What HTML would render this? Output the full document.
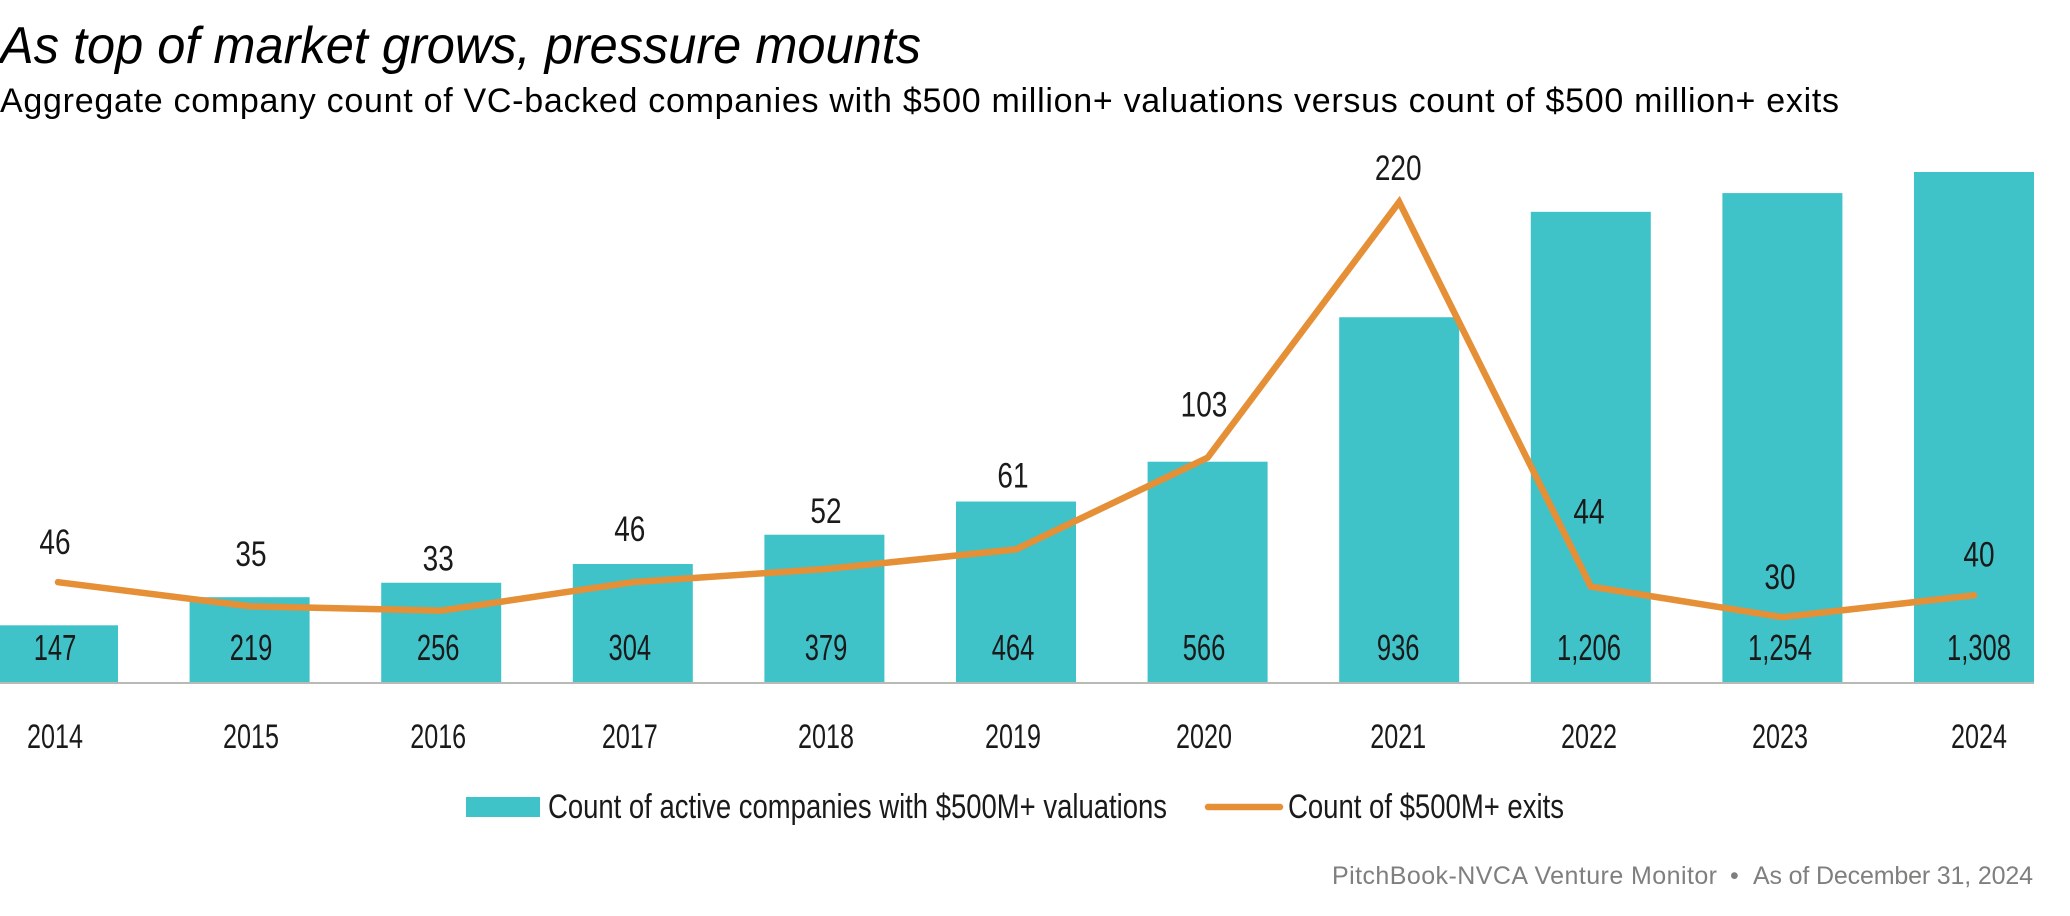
<!DOCTYPE html>
<html lang="en">
<head>
<meta charset="utf-8">
<title>As top of market grows, pressure mounts</title>
<style>
  html, body { margin: 0; padding: 0; background: #fff; width: 2070px; height: 916px; overflow: hidden; }
  svg { display: block; }
  text { font-family: "Liberation Sans", sans-serif; fill: #1a1a1a; }
</style>
</head>
<body>
<svg id="chart" xmlns="http://www.w3.org/2000/svg" width="2070" height="916" viewBox="0 0 2070 916">
  <text x="0" y="63" font-size="52" font-style="italic" textLength="921" lengthAdjust="spacingAndGlyphs" style="fill:#000">As top of market grows, pressure mounts</text>
  <text x="0" y="112" font-size="34" textLength="1839" lengthAdjust="spacing" style="fill:#000">Aggregate company count of VC-backed companies with $500 million+ valuations versus count of $500 million+ exits</text>

  <g id="bars"></g>
  <line x1="0" x2="2034" y1="683" y2="683" stroke="#b9b9b5" stroke-width="2"></line>
  <g id="barsTop"></g>
  <path id="exitLine" fill="none" stroke="#e58f36" stroke-width="6.5" stroke-linejoin="miter" stroke-linecap="round"></path>
  <g id="exitLabels"></g>
  <g id="xTicks"></g>

  <g>
    <rect x="466" y="797" width="74" height="20" fill="#40c2c9"></rect>
    <text x="548" y="818" font-size="34" textLength="619" lengthAdjust="spacingAndGlyphs">Count of active companies with $500M+ valuations</text>
    <line x1="1208" x2="1280" y1="807" y2="807" stroke="#e58f36" stroke-width="6.5" stroke-linecap="round"></line>
    <text x="1288" y="818" font-size="34" textLength="276" lengthAdjust="spacingAndGlyphs">Count of $500M+ exits</text>
  </g>

  <g>
    <text x="1332" y="884" font-size="25" textLength="385" lengthAdjust="spacing" style="fill:#7f7f7d">PitchBook-NVCA Venture Monitor</text>
    <text x="1730" y="884" font-size="25" style="fill:#7f7f7d">•</text>
    <text x="1753" y="884" font-size="25" textLength="280" lengthAdjust="spacing" style="fill:#7f7f7d">As of December 31, 2024</text>
  </g>
</svg>

<script>
const years = ['2014','2015','2016','2017','2018','2019','2020','2021','2022','2023','2024'];
const activeCompanies = [147,219,256,304,379,464,566,936,1206,1254,1308];
const exitCounts = [46,35,33,46,52,61,103,220,44,30,40];

// Layout constants (not data)
const NS = 'http://www.w3.org/2000/svg';
const BASE_Y = 682.7;
const BAR_W = 120;
const xPos = i => 58 + 191.6 * i;
const yBar = v => BASE_Y - v * (510.7 / 1308);
const yLine = v => BASE_Y - v * (480.7 / 220);

// Hand placement of labels relative to their mark
const exitLabelRise = [28, 40, 40, 41, 46, 62, 41, 22, 63, 28, 29];
const labelShift = [-3, 1.4, -3, -3, 1.6, -3, -3.6, -1, -1.8, -2.4, 5];

function addText(parent, str, cx, baseline, size, narrow) {
  const t = document.createElementNS(NS, 'text');
  t.setAttribute('transform', 'translate(' + cx + ',' + baseline + ') scale(' + narrow + ',1)');
  t.setAttribute('text-anchor', 'middle');
  t.setAttribute('font-size', size);
  t.textContent = str;
  parent.appendChild(t);
  return t;
}

const barsG = document.getElementById('bars');
const barsTop = document.getElementById('barsTop');
const exitG = document.getElementById('exitLabels');
const ticksG = document.getElementById('xTicks');

activeCompanies.forEach((v, i) => {
  const r = document.createElementNS(NS, 'rect');
  r.setAttribute('x', xPos(i) - BAR_W / 2);
  r.setAttribute('y', yBar(v));
  r.setAttribute('width', BAR_W);
  r.setAttribute('height', BASE_Y - yBar(v));
  r.setAttribute('fill', '#40c2c9');
  
  
  barsG.appendChild(r);

  const l = addText(barsTop, v.toLocaleString('en-US'), xPos(i) + labelShift[i], 660, 36, 0.71);
  
  

  const y = addText(ticksG, years[i], xPos(i) + labelShift[i], 748, 34, 0.74);
  
  
});

document.getElementById('exitLine').setAttribute('d',
  exitCounts.map((v, i) => (i ? 'L' : 'M') + xPos(i) + ' ' + yLine(v)).join(' '));

exitCounts.forEach((v, i) => {
  const l = addText(exitG, String(v), xPos(i) + labelShift[i], yLine(v) - exitLabelRise[i], 35, 0.8);
  
  
});
</script>
</body>
</html>
